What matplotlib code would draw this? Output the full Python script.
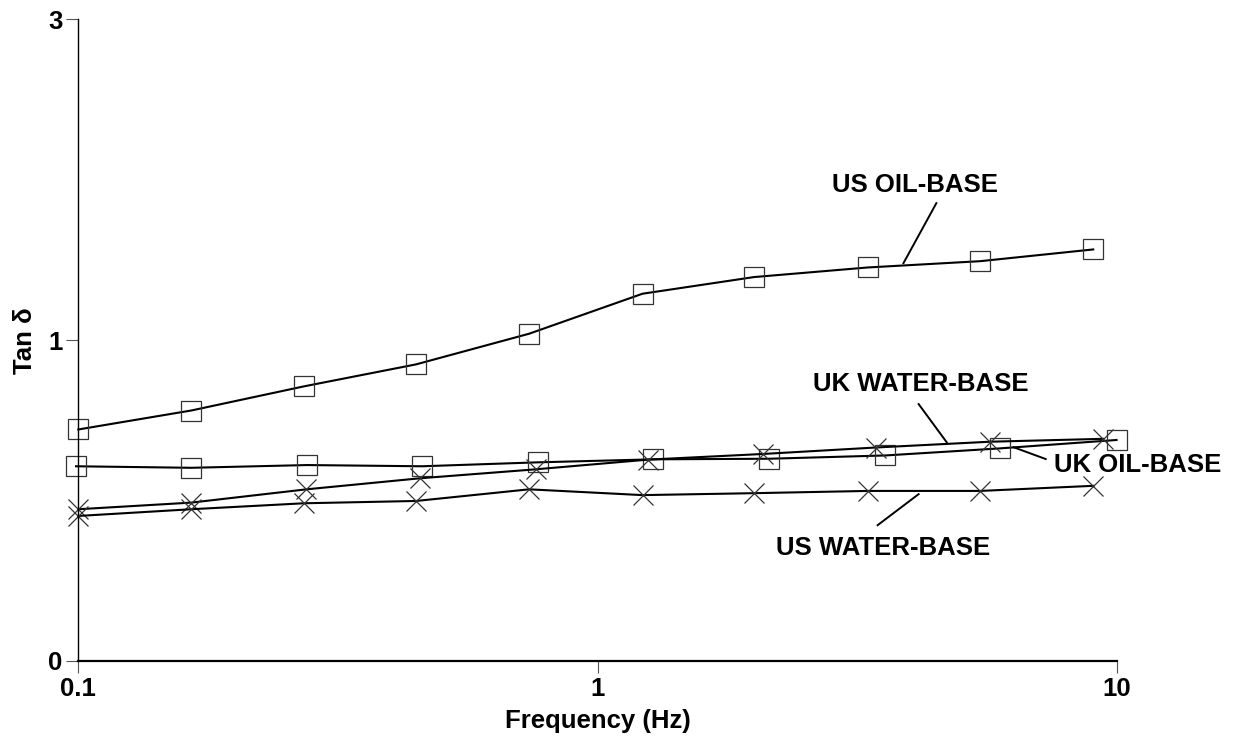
import numpy as np
import matplotlib
matplotlib.use("Agg")
import matplotlib.pyplot as plt

plt.rcParams["font.family"] = ["Liberation Sans", "DejaVu Sans"]
plt.rcParams["font.weight"] = "bold"

# frequency sweeps (Hz) and loss tangent readings for each mud
us_freq = [0.1, 0.165, 0.272, 0.447, 0.738, 1.22, 2.0, 3.31, 5.45, 9.0]
uk_oil_freq = [0.099, 0.165, 0.276, 0.459, 0.767, 1.28, 2.14, 3.58, 5.95, 9.98]
uk_water_freq = [0.1, 0.165, 0.275, 0.455, 0.76, 1.25, 2.08, 3.43, 5.7, 9.4]

us_oil = [0.649, 0.718, 0.810, 0.898, 1.028, 1.211, 1.292, 1.340, 1.372, 1.433]
uk_oil = [0.523, 0.518, 0.527, 0.523, 0.536, 0.546, 0.548, 0.559, 0.583, 0.612]
uk_water = [0.388, 0.408, 0.449, 0.484, 0.513, 0.545, 0.564, 0.586, 0.606, 0.616]
us_water = [0.368, 0.388, 0.406, 0.413, 0.449, 0.431, 0.437, 0.444, 0.444, 0.460]

X_TICKS = [0.1, 1, 10]
X_TICK_LABELS = ["0.1", "1", "10"]
Y_TICKS = [0, 1, 3]

# label text, text position, leader start, leader end (frequency, tan delta)
LABELS = [
    ("US OIL-BASE", (4.09, 1.795), (4.49, 1.689), (3.88, 1.362), "center"),
    ("UK WATER-BASE", (4.19, 0.819), (4.15, 0.742), (4.70, 0.604), "center"),
    ("UK OIL-BASE", (7.55, 0.527), (7.29, 0.547), (6.32, 0.587), "left"),
    ("US WATER-BASE", (3.55, 0.276), (3.46, 0.341), (4.15, 0.434), "center"),
]

FONT_SIZE = 18.5
LINE_KW = dict(color="black", linewidth=1.5, markersize=14.4,
               markeredgewidth=0.9, markeredgecolor="#333333",
               markerfacecolor="none", clip_on=False)


def forward(v):
    return np.log10(1 + np.asarray(v, dtype=float))


def inverse(u):
    return 10 ** np.asarray(u, dtype=float) - 1


fig = plt.figure(figsize=(12.4, 7.38), dpi=100)
ax = fig.add_axes([78.3 / 1240, 77 / 738, (1117 - 78.3) / 1240, (661 - 19.3) / 738])

ax.plot(us_freq, us_oil, marker="s", **LINE_KW)
ax.plot(uk_oil_freq, uk_oil, marker="s", **LINE_KW)
ax.plot(uk_water_freq, uk_water, marker="x", **LINE_KW)
ax.plot(us_freq, us_water, marker="x", **LINE_KW)

for text, pos, start, end, ha in LABELS:
    ax.text(pos[0], pos[1], text, ha=ha, va="center", fontsize=FONT_SIZE,
            fontweight="bold")
    ax.plot([start[0], end[0]], [start[1], end[1]], color="black",
            linewidth=1.4, clip_on=False)

ax.set_xscale("log")
ax.set_yscale("function", functions=(forward, inverse))
ax.set_xlim(0.1, 10)
ax.set_ylim(0, 3)

ax.set_xticks(X_TICKS)
ax.set_xticklabels(X_TICK_LABELS)
ax.xaxis.set_minor_locator(matplotlib.ticker.NullLocator())
ax.set_yticks(Y_TICKS)
ax.set_yticklabels([str(t) for t in Y_TICKS])
ax.yaxis.set_minor_locator(matplotlib.ticker.NullLocator())

ax.tick_params(axis="both", direction="out", length=8.5, width=0.8,
               color="#555555", labelsize=FONT_SIZE, pad=3)

for side in ("top", "right"):
    ax.spines[side].set_visible(False)
ax.spines["left"].set_linewidth(1.0)
ax.spines["bottom"].set_linewidth(1.6)

ax.set_xlabel("Frequency (Hz)", fontsize=FONT_SIZE, fontweight="bold", labelpad=6)
ax.set_ylabel("Tan δ", fontsize=FONT_SIZE, fontweight="bold", labelpad=8)

fig.savefig("out.png", dpi=100)
